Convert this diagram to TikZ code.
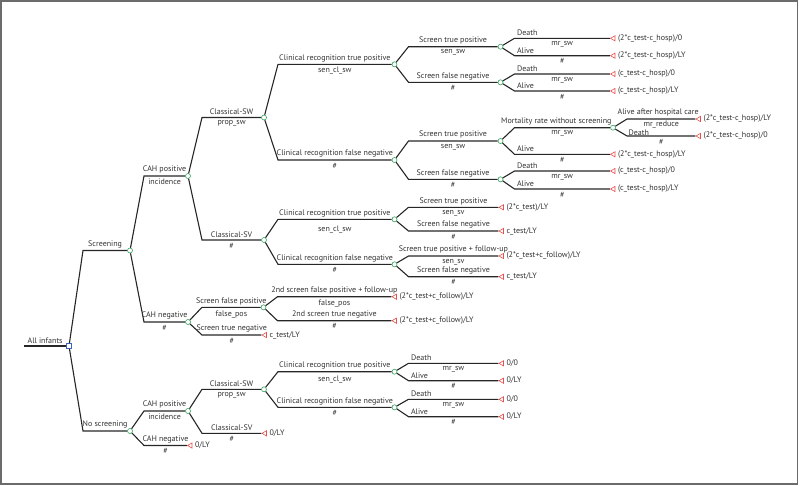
\documentclass[tikz,border=0pt]{standalone}
\usepackage{fontspec}
\setmainfont{PT Sans}
\usetikzlibrary{shapes.geometric, calc}

\definecolor{chgreen}{HTML}{33A35A}
\definecolor{decblue}{HTML}{3D64B8}
\definecolor{termred}{HTML}{E8514E}
\definecolor{linegray}{HTML}{262626}
\definecolor{txtgray}{HTML}{333333}
\definecolor{framegray}{HTML}{6B6B6B}
\newcommand\lblfont{\fontsize{8}{9.5}\selectfont}

\tikzset{
  chance/.style={circle, draw=chgreen, fill=white, line width=0.6pt, minimum size=5pt, inner sep=0pt},
  decision/.style={rectangle, draw=decblue, fill=white, line width=0.6pt, minimum size=5pt, inner sep=0pt},
  terminal/.style={regular polygon, regular polygon sides=3, shape border rotate=90, draw=termred, fill=white,
    line width=0.6pt, minimum size=6pt, inner sep=0pt, xshift=1.5pt, label distance=2pt, label={[payoff]right:#1}},
  payoff/.style={text=txtgray, font=\lblfont, inner sep=1pt, xshift=1.5pt},
  br/.style={to path={let \p1=(\tikztostart), \p2=(\tikztotarget) in -- (\x1+14pt,\y2) -- (\tikztotarget) \tikztonodes}},
  nm/.style={midway, above, inner sep=2pt, text=txtgray, font=\lblfont},
  lnm/.style={pos=0, anchor=south west, inner sep=2pt, text=txtgray, font=\lblfont},
  pr/.style={midway, below, inner sep=2.5pt, text=txtgray, font=\lblfont}
}

\begin{document}
\begin{tikzpicture}[x=1pt, y=-1pt]
        \useasboundingbox (0,0) rectangle (800,485);
        \draw[framegray, line width=1.5pt] (0.75,0.75) rectangle (797.5,484);

        \coordinate (in) at (24,346);
        \node[decision] (all) at (69,346) {};
        \node[chance] (scr) at (130,250.5) {};
        \node[chance] (nos) at (130,431) {};
        \node[chance] (scrpos) at (188,176) {};
        \node[chance] (scrneg) at (188,322) {};
        \node[chance] (nospos) at (188,411) {};
        \node[terminal={0/LY}] (nosneg) at (189,445.5) {};

        \node[chance] (sw) at (264,117.5) {};
        \node[chance] (sv) at (264,240) {};
        \node[chance] (fpos) at (263.5,307.3) {};
        \node[terminal={c\_test/LY}] (tneg) at (263.5,335) {};
        \node[chance] (nsw) at (264,389.3) {};
        \node[terminal={0/LY}] (nsv) at (263.5,433.3) {};

        \node[chance] (swtp) at (394.5,64.3) {};
        \node[chance] (swfn) at (394.5,160) {};
        \node[chance] (svtp) at (394.5,219.3) {};
        \node[chance] (svfn) at (394.5,264.3) {};
        \node[terminal={(2*c\_test+c\_follow)/LY}] (fp2) at (393.5,296.7) {};
        \node[terminal={(2*c\_test+c\_follow)/LY}] (tn2) at (393.5,320.7) {};
        \node[chance] (nswtp) at (394.5,371.7) {};
        \node[chance] (nswfn) at (394.5,407.3) {};

        \node[chance] (swtp1) at (500.5,46.7) {};
        \node[chance] (swtp2) at (500.5,82.3) {};
        \node[chance] (swfn1) at (500.5,141) {};
        \node[chance] (swfn2) at (500.5,179.3) {};
        \node[terminal={(2*c\_test)/LY}] (svtp1) at (500.5,207.3) {};
        \node[terminal={c\_test/LY}] (svtp2) at (500.5,231) {};
        \node[terminal={(2*c\_test+c\_follow)/LY}] (svfn1) at (500.5,256) {};
        \node[terminal={c\_test/LY}] (svfn2) at (500.5,276.7) {};
        \node[terminal={0/0}] (nswtp1) at (500.5,363.3) {};
        \node[terminal={0/LY}] (nswtp2) at (500.5,380.7) {};
        \node[terminal={0/0}] (nswfn1) at (500.5,399.3) {};
        \node[terminal={0/LY}] (nswfn2) at (500.5,416.7) {};

        \node[terminal={(2*c\_test-c\_hosp)/0}] (d1) at (612,38.3) {};
        \node[terminal={(2*c\_test-c\_hosp)/LY}] (a1) at (612,55.7) {};
        \node[terminal={(c\_test-c\_hosp)/0}] (d2) at (612,74) {};
        \node[terminal={(c\_test-c\_hosp)/LY}] (a2) at (612,91) {};
        \node[chance] (mort) at (613,127.7) {};
        \node[terminal={(2*c\_test-c\_hosp)/LY}] (a3) at (612,154.3) {};
        \node[terminal={(c\_test-c\_hosp)/0}] (d4) at (612,171) {};
        \node[terminal={(c\_test-c\_hosp)/LY}] (a4) at (612,189) {};

        \node[terminal={(2*c\_test-c\_hosp)/LY}] (ah) at (697.5,119) {};
        \node[terminal={(2*c\_test-c\_hosp)/0}] (dh) at (697.5,136) {};

        \draw[linegray, line width=1.1pt]
                (in) -- node[nm]{All infants} (all)
                (all) edge[br] node[nm]{Screening} (scr)
                (all) edge[br] node[nm]{No screening} (nos)
                (scr) edge[br] node[nm]{CAH positive} node[pr]{incidence} (scrpos)
                (scr) edge[br] node[nm]{CAH negative} node[pr]{\#} (scrneg)
                (nos) edge[br] node[nm]{CAH positive} node[pr]{incidence} (nospos)
                (nos) edge[br] node[nm]{CAH negative} node[pr]{\#} (nosneg)
                (scrpos) edge[br] node[nm]{Classical-SW} node[pr]{prop\_sw} (sw)
                (scrpos) edge[br] node[nm]{Classical-SV} node[pr]{\#} (sv)
                (scrneg) edge[br] node[nm]{Screen false positive} node[pr]{false\_pos} (fpos)
                (scrneg) edge[br] node[nm]{Screen true negative} node[pr]{\#} (tneg)
                (nospos) edge[br] node[nm]{Classical-SW} node[pr]{prop\_sw} (nsw)
                (nospos) edge[br] node[nm]{Classical-SV} node[pr]{\#} (nsv)
                (sw) edge[br] node[nm]{Clinical recognition true positive} node[pr]{sen\_cl\_sw} (swtp)
                (sw) edge[br] node[nm]{Clinical recognition false negative} node[pr]{\#} (swfn)
                (sv) edge[br] node[nm]{Clinical recognition true positive} node[pr, yshift=-3.5pt]{sen\_cl\_sw} (svtp)
                (sv) edge[br] node[nm]{Clinical recognition false negative} node[pr]{\#} (svfn)
                (fpos) edge[br] node[nm]{2nd screen false positive + follow-up} node[pr]{false\_pos} (fp2)
                (fpos) edge[br] node[nm]{2nd screen true negative} node[pr]{\#} (tn2)
                (nsw) edge[br] node[nm]{Clinical recognition true positive} node[pr, yshift=-1.5pt]{sen\_cl\_sw} (nswtp)
                (nsw) edge[br] node[nm]{Clinical recognition false negative} node[pr]{\#} (nswfn)
                (swtp) edge[br] node[nm]{Screen true positive} node[pr]{sen\_sw} (swtp1)
                (swtp) edge[br] node[nm]{Screen false negative} node[pr]{\#} (swtp2)
                (swfn) edge[br] node[nm]{Screen true positive} node[pr]{sen\_sw} (swfn1)
                (swfn) edge[br] node[nm]{Screen false negative} node[pr]{\#} (swfn2)
                (svtp) edge[br] node[nm]{Screen true positive} node[pr]{sen\_sv} (svtp1)
                (svtp) edge[br] node[nm]{Screen false negative} node[pr]{\#} (svtp2)
                (svfn) edge[br] node[nm]{Screen true positive + follow-up} node[pr]{sen\_sv} (svfn1)
                (svfn) edge[br] node[nm]{Screen false negative} node[pr]{\#} (svfn2)
                (nswtp) edge[br] node[lnm]{Death} node[pr]{mr\_sw} (nswtp1)
                (nswtp) edge[br] node[lnm]{Alive} node[pr]{\#} (nswtp2)
                (nswfn) edge[br] node[lnm]{Death} node[pr]{mr\_sw} (nswfn1)
                (nswfn) edge[br] node[lnm]{Alive} node[pr]{\#} (nswfn2)
                (swtp1) edge[br] node[lnm]{Death} node[pr]{mr\_sw} (d1)
                (swtp1) edge[br] node[lnm]{Alive} node[pr]{\#} (a1)
                (swtp2) edge[br] node[lnm]{Death} node[pr]{mr\_sw} (d2)
                (swtp2) edge[br] node[lnm]{Alive} node[pr]{\#} (a2)
                (swfn1) edge[br] node[nm, xshift=-6pt]{Mortality rate without screening} node[pr]{mr\_sw} (mort)
                (swfn1) edge[br] node[lnm]{Alive} node[pr]{\#} (a3)
                (swfn2) edge[br] node[lnm]{Death} node[pr]{mr\_sw} (d4)
                (swfn2) edge[br] node[lnm]{Alive} node[pr]{\#} (a4)
                (mort) edge[br] node[nm, xshift=-3pt]{Alive after hospital care} node[pr, inner sep=1pt]{mr\_reduce} (ah)
                (mort) edge[br] node[lnm, inner sep=1pt, yshift=-1pt]{Death} node[pr]{\#} (dh);

    \end{tikzpicture}
\end{document}
